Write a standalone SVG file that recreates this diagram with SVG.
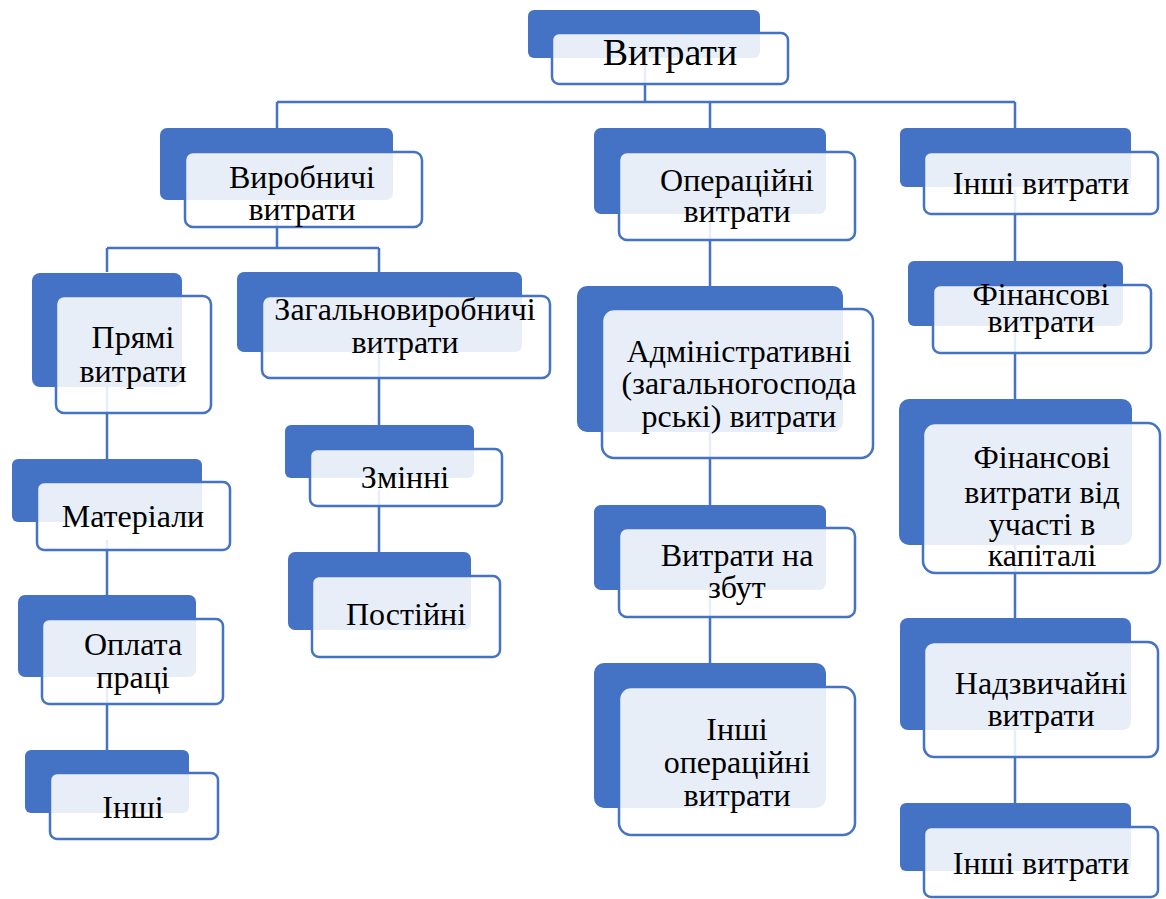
<svg xmlns="http://www.w3.org/2000/svg" width="1166" height="899" viewBox="0 0 1166 899">
<style>
.bk{fill:#4472C4}
.fr{fill:#ffffff;fill-opacity:0.88;stroke:#4472C4;stroke-width:2.5}
.c{fill:none;stroke:#4472C4;stroke-width:2.5}
text{font-family:'Liberation Serif','Times New Roman',serif;font-size:32px;fill:#000;text-anchor:middle}
</style>
<rect width="1166" height="899" fill="#ffffff"/>
<g id="connectors" class="c">
<path d="M645 60V102M277 102H1015M277 102V128M710 102V128M1015 102V128"/>
<path d="M277 200V248M107 248H379M107 248V272M379 248V272"/>
<path d="M107 380V459M107 540V596M107 680V750"/>
<path d="M379 350V425M379 490V552"/>
<path d="M710 210V286M710 430V505M710 590V663"/>
<path d="M1015 190V261M1015 330V399M1015 545V618M1015 730V803"/>
</g>
<g id="root"><rect class="bk" x="528" y="10" width="232" height="48" rx="6"/><rect class="fr" x="552" y="33" width="236" height="51" rx="7"/><text x="670" y="65" style="font-size:38px">Витрати</text></g>
<g id="vyrobnychi"><rect class="bk" x="160" y="128" width="233" height="72" rx="7"/><rect class="fr" x="185" y="152" width="237" height="75" rx="8"/><text x="302" y="188">Виробничі</text><text x="302" y="220">витрати</text></g>
<g id="pryami"><rect class="bk" x="32" y="273" width="150" height="114" rx="8"/><rect class="fr" x="56" y="296" width="155" height="117" rx="8"/><text x="133" y="348">Прямі</text><text x="133" y="382">витрати</text></g>
<g id="materialy"><rect class="bk" x="12" y="459" width="190" height="63" rx="6"/><rect class="fr" x="37" y="482" width="193" height="68" rx="7"/><text x="133" y="527">Матеріали</text></g>
<g id="oplata"><rect class="bk" x="18" y="595" width="178" height="82" rx="7"/><rect class="fr" x="42" y="619" width="181" height="85" rx="7"/><text x="133" y="655">Оплата</text><text x="133" y="688">праці</text></g>
<g id="inshi1"><rect class="bk" x="25" y="750" width="164" height="63" rx="6"/><rect class="fr" x="50" y="773" width="168" height="66" rx="7"/><text x="133" y="818">Інші</text></g>
<g id="zagalnovyr"><rect class="bk" x="237" y="272" width="285" height="80" rx="7"/><rect class="fr" x="262" y="296" width="288" height="82" rx="8"/><text x="405" y="320">Загальновиробничі</text><text x="405" y="353">витрати</text></g>
<g id="zminni"><rect class="bk" x="285" y="425" width="189" height="53" rx="6"/><rect class="fr" x="310" y="449" width="192" height="57" rx="7"/><text x="405" y="488">Змінні</text></g>
<g id="postiini"><rect class="bk" x="288" y="552" width="183" height="78" rx="7"/><rect class="fr" x="312" y="576" width="188" height="81" rx="7"/><text x="406" y="625">Постійні</text></g>
<g id="operatsiini"><rect class="bk" x="594" y="128" width="232" height="86" rx="7"/><rect class="fr" x="619" y="152" width="236" height="88" rx="8"/><text x="737" y="191">Операційні</text><text x="737" y="222">витрати</text></g>
<g id="admin"><rect class="bk" x="577" y="286" width="266" height="146" rx="10"/><rect class="fr" x="602" y="309" width="271" height="149" rx="12"/><text x="739" y="362">Адміністративні</text><text x="739" y="394">(загальногоспода</text><text x="739" y="427">рські) витрати</text></g>
<g id="zbut"><rect class="bk" x="594" y="505" width="232" height="85" rx="7"/><rect class="fr" x="619" y="528" width="236" height="89" rx="8"/><text x="737" y="566">Витрати на</text><text x="737" y="598">збут</text></g>
<g id="inshi-oper"><rect class="bk" x="594" y="663" width="232" height="145" rx="10"/><rect class="fr" x="619" y="687" width="236" height="148" rx="12"/><text x="737" y="740">Інші</text><text x="737" y="773">операційні</text><text x="737" y="806">витрати</text></g>
<g id="inshi-vytraty"><rect class="bk" x="900" y="128" width="231" height="59" rx="6"/><rect class="fr" x="924" y="152" width="234" height="62" rx="7"/><text x="1041" y="194">Інші витрати</text></g>
<g id="finansovi"><rect class="bk" x="908" y="261" width="215" height="65" rx="6"/><rect class="fr" x="933" y="285" width="218" height="68" rx="7"/><text x="1041" y="305">Фінансові</text><text x="1041" y="332">витрати</text></g>
<g id="fin-uchast"><rect class="bk" x="899" y="399" width="233" height="146" rx="10"/><rect class="fr" x="923" y="423" width="237" height="150" rx="12"/><text x="1042" y="468">Фінансові</text><text x="1042" y="503">витрати від</text><text x="1042" y="535">участі в</text><text x="1042" y="566">капіталі</text></g>
<g id="nadzvychaini"><rect class="bk" x="900" y="618" width="231" height="112" rx="8"/><rect class="fr" x="924" y="642" width="234" height="115" rx="10"/><text x="1041" y="694">Надзвичайні</text><text x="1041" y="726">витрати</text></g>
<g id="inshi-vytraty2"><rect class="bk" x="900" y="803" width="231" height="68" rx="6"/><rect class="fr" x="924" y="827" width="234" height="70" rx="7"/><text x="1041" y="874">Інші витрати</text></g>
</svg>
